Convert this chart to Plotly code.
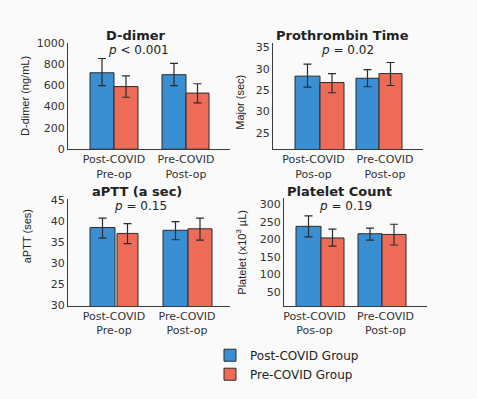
import plotly.graph_objects as go

W, H = 477, 399

groups = ["Post-COVID Group", "Pre-COVID Group"]
colors = {"Post-COVID Group": "#3a8fd3", "Pre-COVID Group": "#ee6c57"}

# --- data ---
ddimer_cats = ["Post-COVID<br>Pre-op", "Pre-COVID<br>Post-op"]
ddimer_post = [718, 700]
ddimer_post_lo = [597, 597]
ddimer_post_hi = [852, 806]
ddimer_pre = [588, 527]
ddimer_pre_lo = [488, 436]
ddimer_pre_hi = [688, 615]

pt_cats = ["Post-COVID<br>Pos-op", "Pre-COVID<br>Post-op"]
pt_post = [28.3, 27.8]
pt_post_lo = [25.7, 25.8]
pt_post_hi = [31.1, 29.85]
pt_pre = [26.8, 28.9]
pt_pre_lo = [24.4, 26.1]
pt_pre_hi = [28.9, 31.5]
pt_tickvals = [35, 30, 25, 20, 15]
pt_ticktext = ["35", "30", "25", "30", "25"]

aptt_cats = ["Post-COVID<br>Pre-op", "Pre-COVID<br>Post-op"]
aptt_post = [38.5, 37.85]
aptt_post_lo = [36.0, 35.6]
aptt_post_hi = [40.75, 39.9]
aptt_pre = [37.1, 38.2]
aptt_pre_lo = [34.7, 35.5]
aptt_pre_hi = [39.45, 40.75]
aptt_tickvals = [45, 40, 35, 30, 25, 20]
aptt_ticktext = ["45", "40", "35", "30", "25", "30"]

plt_cats = ["Post-COVID<br>Pos-op", "Pre-COVID<br>Post-op"]
plt_post = [237, 216]
plt_post_lo = [207, 198]
plt_post_hi = [267, 232]
plt_pre = [204, 214]
plt_pre_lo = [181, 184]
plt_pre_hi = [229, 243]
plt_tickvals = [300, 250, 200, 150, 100, 50]

fig = go.Figure()

def add_pair(cats, post, post_lo, post_hi, pre, pre_lo, pre_hi, idx, geom, showlegend):
    """geom: ((blue_offsets, blue_widths), (red_offsets, red_widths)) in axis units."""
    xa = "x" if idx == 1 else f"x{idx}"
    ya = "y" if idx == 1 else f"y{idx}"
    series = [
        (groups[0], post, post_lo, post_hi, geom[0]),
        (groups[1], pre, pre_lo, pre_hi, geom[1]),
    ]
    for name, vals, lo, hi, (off, wd) in series:
        fig.add_trace(go.Bar(
            x=cats, y=vals, name=name, legendgroup=name, showlegend=showlegend,
            xaxis=xa, yaxis=ya,
            offset=off, width=wd,
            marker=dict(color=colors[name], line=dict(color="#2b2b2b", width=1)),
            error_y=dict(type="data", symmetric=False,
                         array=[h - v for h, v in zip(hi, vals)],
                         arrayminus=[v - l for v, l in zip(vals, lo)],
                         color="#2b2b2b", thickness=1.2, width=4),
        ))

def px_geom(ticks_px, unit, blue_px, red_px):
    """Convert pixel bar extents (left, right) per category into offsets/widths."""
    def conv(extents):
        offs = [(l - t) / unit for (l, r), t in zip(extents, ticks_px)]
        wds = [(r - l) / unit for (l, r) in extents]
        return offs, wds
    return conv(blue_px), conv(red_px)

g1 = px_geom([114, 186], 72, [(90, 114), (162, 186)], [(114, 138), (186, 209)])
g2 = px_geom([313.5, 385], 71.5, [(295, 320), (356, 379)], [(320, 344), (379, 402)])
g3 = px_geom([114, 187], 73, [(90, 115), (163, 188)], [(117, 138), (188, 212)])
g4 = px_geom([314.5, 385.5], 71, [(296, 321), (358, 382)], [(321, 344), (382, 406)])

add_pair(ddimer_cats, ddimer_post, ddimer_post_lo, ddimer_post_hi,
         ddimer_pre, ddimer_pre_lo, ddimer_pre_hi, 1, g1, True)
add_pair(pt_cats, pt_post, pt_post_lo, pt_post_hi,
         pt_pre, pt_pre_lo, pt_pre_hi, 2, g2, False)
add_pair(aptt_cats, aptt_post, aptt_post_lo, aptt_post_hi,
         aptt_pre, aptt_pre_lo, aptt_pre_hi, 3, g3, False)
add_pair(plt_cats, plt_post, plt_post_lo, plt_post_hi,
         plt_pre, plt_pre_lo, plt_pre_hi, 4, g4, False)

def xd(a, b):
    return [a / W, b / W]

def yd(top, bottom):
    return [1 - bottom / H, 1 - top / H]

def xr(a, b, t0, t1):
    unit = t1 - t0
    return [-(t0 - a) / unit, 1 + (b - t1) / unit]

tickfont = dict(family="DejaVu Sans", size=11, color="#333333")
axis_common = dict(showline=True, linecolor="#3a3a3a", linewidth=1.2,
                   showgrid=False, zeroline=False, ticks="", tickfont=tickfont)
xcommon = dict(tickangle=0, automargin=False, **axis_common)

fig.update_layout(
    xaxis=dict(domain=xd(68, 230), anchor="y", range=xr(68, 230, 114, 186), **xcommon),
    yaxis=dict(domain=yd(38, 148), anchor="x", range=[0, 1000],
               tickvals=[0, 200, 400, 600, 800, 1000], **axis_common),
    xaxis2=dict(domain=xd(273, 423), anchor="y2", range=xr(273, 423, 313.5, 385), **xcommon),
    yaxis2=dict(domain=yd(38, 148), anchor="x2", range=[11.14, 36.14],
                tickvals=pt_tickvals, ticktext=pt_ticktext, **axis_common),
    xaxis3=dict(domain=xd(68, 230), anchor="y3", range=xr(68, 230, 114, 187), **xcommon),
    yaxis3=dict(domain=yd(199, 310), anchor="x3", range=[19.9, 45.39],
                tickvals=aptt_tickvals, ticktext=aptt_ticktext, **axis_common),
    xaxis4=dict(domain=xd(284, 427), anchor="y4", range=xr(284, 427, 314.5, 385.5), **xcommon),
    yaxis4=dict(domain=yd(198, 310), anchor="x4", range=[10.6, 319],
                tickvals=plt_tickvals, **axis_common),
)

ann = []
def add_text(x, y, text, size=12, bold=False, angle=0, family="DejaVu Sans", color="#222222"):
    ann.append(dict(x=x / W, y=1 - y / H, xref="paper", yref="paper", text=text,
                    showarrow=False, textangle=angle, xanchor="center", yanchor="middle",
                    font=dict(family=family, size=size, color=color,
                              weight="bold" if bold else "normal")))

# panel titles
add_text(136, 30, "D-dimer", 13, True)
add_text(342, 30, "Prothrombin Time", 13, True)
add_text(137, 192, "aPTT (a sec)", 13, True)
add_text(339, 192, "Platelet Count", 13, True)
# p-values
add_text(138, 45, "<i>p</i> < 0.001", 12)
add_text(347, 45, "<i>p</i> = 0.02", 12)
add_text(140, 207, "<i>p</i> = 0.15", 12)
add_text(345, 207, "<i>p</i> = 0.19", 12)
# y-axis titles
narrow = "Liberation Sans Narrow, Liberation Sans, Arial, sans-serif"
add_text(25, 93, "D-dimer (ng/mL)", 11, angle=-90, family=narrow)
add_text(240, 100, "Major (sec)", 11, angle=-90, family=narrow)
add_text(27, 238, "aPTT (ses)", 11, angle=-90, family=narrow)
add_text(241, 255, "Platelet (x10<sup>3</sup> µL)", 11, angle=-90, family=narrow)

fig.update_layout(
    width=W, height=H,
    margin=dict(l=0, r=0, t=0, b=0),
    paper_bgcolor="#fafafa", plot_bgcolor="rgba(0,0,0,0)",
    barmode="overlay",
    annotations=ann,
    showlegend=True,
    legend=dict(x=210 / W, y=1 - 346 / H, xanchor="left", yanchor="top",
                bgcolor="rgba(0,0,0,0)", font=dict(family="DejaVu Sans", size=12, color="#222222"),
                tracegroupgap=0, itemwidth=30),
    font=dict(family="DejaVu Sans", color="#222222"),
)

fig.write_html("out.html", config={"displayModeBar": False},
               post_script="document.body.style.margin='0';document.body.style.background='#fafafa';")
